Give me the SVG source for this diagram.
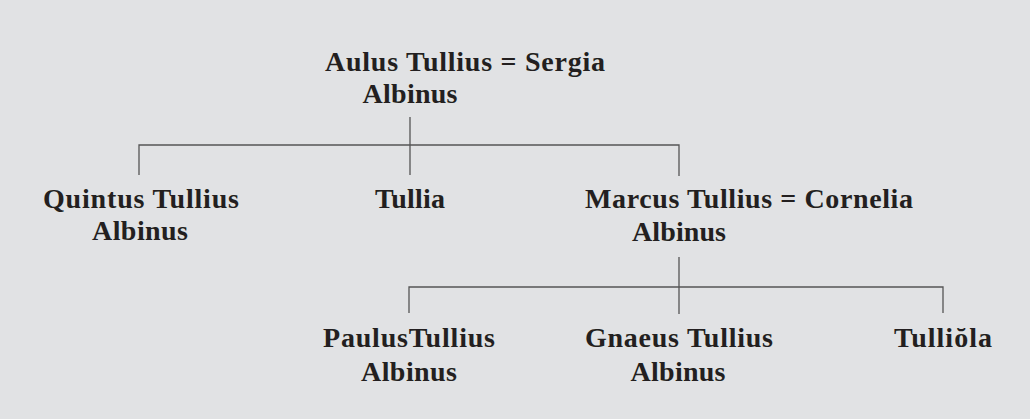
<svg xmlns="http://www.w3.org/2000/svg" width="1030" height="419" viewBox="0 0 1030 419">
<style>
text{font-family:"Liberation Serif","Times New Roman",serif;font-weight:bold;font-size:28px;fill:#231f20}
.l{stroke:#555;stroke-width:1.3;fill:none}
</style>
<rect x="0" y="0" width="1030" height="419" fill="#e1e2e4"/>
<g id="connectors">
<path class="l" d="M410,117V175M139,175V145H679V176"/>
<path class="l" d="M679,257V314M409,313V287H943V313"/>
</g>
<g id="aulus"><text x="325" y="71" textLength="280">Aulus Tullius  = Sergia</text><text x="410" y="103" text-anchor="middle" textLength="95">Albinus</text></g>
<g id="quintus"><text x="43" y="208" textLength="196">Quintus Tullius</text><text x="140" y="240" text-anchor="middle" textLength="96">Albinus</text></g>
<g id="tullia"><text x="410" y="208" text-anchor="middle" textLength="70">Tullia</text></g>
<g id="marcus"><text x="585" y="208" textLength="328">Marcus Tullius = Cornelia</text><text x="679" y="241" text-anchor="middle" textLength="94">Albinus</text></g>
<g id="paulus"><text x="323" y="347" textLength="172">PaulusTullius</text><text x="409" y="381" text-anchor="middle" textLength="96">Albinus</text></g>
<g id="gnaeus"><text x="585" y="347" textLength="188">Gnaeus Tullius</text><text x="678" y="381" text-anchor="middle" textLength="95">Albinus</text></g>
<g id="tulliola"><text x="894" y="347" textLength="98">Tulliŏla</text></g>
</svg>
